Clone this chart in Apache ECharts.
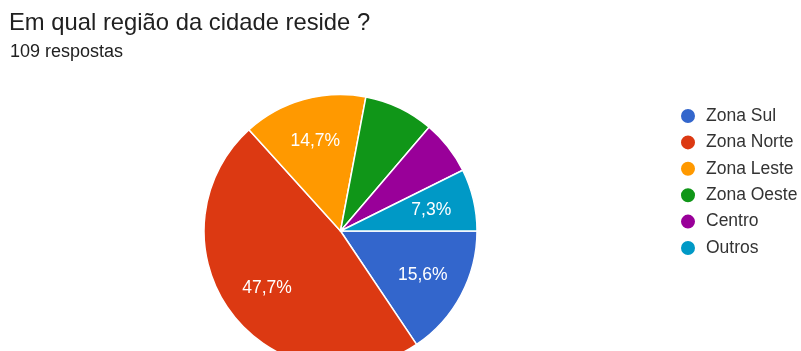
<!DOCTYPE html>
<html><head><meta charset="utf-8">
<script src="https://cdn.jsdelivr.net/npm/echarts@6/dist/echarts.min.js"></script>
<style>html,body{margin:0;padding:0;background:#fff}#c{width:801px;height:351px}</style>
</head><body><div id="c"></div>
<script>
const categories = ['Zona Sul','Zona Norte','Zona Leste','Zona Oeste','Centro','Outros'];
const counts = [17, 52, 16, 9, 7, 8];
const colors = ['#3366cc','#dc3912','#ff9900','#109618','#990099','#0099c6'];
const hiddenLabels = ['Zona Oeste','Centro'];
const titleText = 'Em qual região da cidade reside ?';
const subtitleText = '109 respostas';

const FONT = '"Liberation Sans", Arial, sans-serif';
const total = counts.reduce((a,b)=>a+b,0);
const data = categories.map((n,i)=>({name:n,value:counts[i],itemStyle:{color:colors[i]}}));
const fmt = p => hiddenLabels.includes(p.name) ? '' : (p.value/total*100).toFixed(1).replace('.',',') + '%';
const chart = echarts.init(document.getElementById('c'), null, {renderer:'canvas'});
chart.setOption({
  animation:false,
  textStyle:{fontFamily:FONT},
  graphic:[
    {type:'text',x:9,y:23.5,style:{text:titleText,fontSize:23.8,fontFamily:FONT,fill:'#212121',verticalAlign:'middle'}},
    {type:'text',x:10,y:52.5,style:{text:subtitleText,fontSize:18,fontFamily:FONT,fill:'#212121',verticalAlign:'middle'}}
  ],
  legend:{
    orient:'vertical',left:679,top:107,padding:0,icon:'circle',itemWidth:16,itemHeight:16,itemGap:8.4,
    data:categories,
    textStyle:{fontSize:17.5,color:'#333',fontFamily:FONT,padding:[0,0,0,5]}
  },
  series:[
    {type:'pie',center:[340.5,231],radius:[0,136.5],startAngle:0,clockwise:true,
     data:data,label:{show:false},labelLine:{show:false},
     itemStyle:{borderColor:'#fff',borderWidth:1.5},emphasis:{disabled:true}},
    {type:'pie',center:[340.5,231],radius:[44,136.5],startAngle:0,clockwise:true,silent:true,
     data:categories.map((n,i)=>({name:n,value:counts[i]})),
     itemStyle:{color:'rgba(0,0,0,0)'},
     label:{show:true,position:'inside',formatter:fmt,color:'#fff',fontSize:17.5,fontFamily:FONT},
     labelLine:{show:false},emphasis:{disabled:true}}
  ]
});
</script></body></html>
